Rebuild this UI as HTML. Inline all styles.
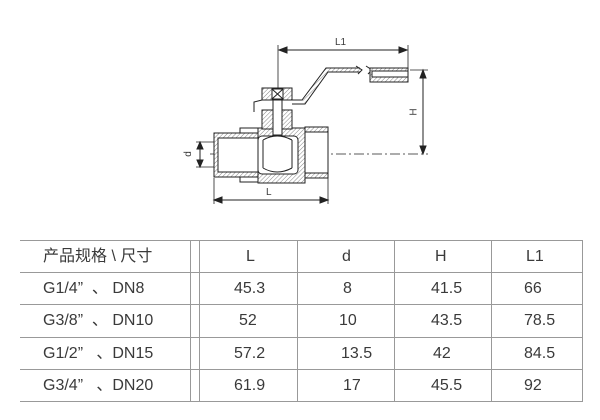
<!DOCTYPE html>
<html><head><meta charset="utf-8"><style>
body{margin:0;background:#fff;}
.w{position:relative;width:600px;height:420px;overflow:hidden;font-family:"Liberation Sans","Noto Sans CJK SC",sans-serif;color:#3a3a3a;}
.t{position:absolute;font-size:16px;line-height:18px;white-space:pre;}
</style></head><body><div class="w">
<svg width="600" height="420" style="position:absolute;left:0;top:0">
<defs>
<pattern id="h" width="3" height="3" patternUnits="userSpaceOnUse" patternTransform="rotate(45)"><rect width="3" height="3" fill="#fff"/><line x1="0" y1="0" x2="0" y2="3" stroke="#666" stroke-width="0.8"/></pattern>
</defs>
<g stroke="#222" stroke-width="1" fill="none">
<line x1="279" y1="50" x2="407" y2="50"/>
<path d="M287,47 L279,50 L287,53 z M399,47 L407,50 L399,53 z" fill="#222"/>
<line x1="278" y1="45" x2="278" y2="135" stroke-width="0.8"/>
<line x1="408" y1="45" x2="408" y2="72" stroke-width="0.8"/>
<line x1="410" y1="70" x2="428" y2="70" stroke-width="0.8"/>
<line x1="423" y1="71" x2="423" y2="153"/>
<path d="M420,78 L423,70 L426,78 z M420,146 L423,154 L426,146 z" fill="#222"/>
<line x1="210" y1="154" x2="428" y2="154" stroke-dasharray="10,3,2,3" stroke-width="0.8"/>
<line x1="196" y1="142" x2="214" y2="142" stroke-width="0.8"/>
<line x1="196" y1="167" x2="214" y2="167" stroke-width="0.8"/>
<line x1="200" y1="142" x2="200" y2="167"/>
<path d="M197,149 L200,142 L203,149 z M197,160 L200,167 L203,160 z" fill="#222"/>
<line x1="214" y1="178" x2="214" y2="204" stroke-width="0.8"/>
<line x1="328" y1="178" x2="328" y2="204" stroke-width="0.8"/>
<line x1="214" y1="200" x2="328" y2="200"/>
<path d="M222,197 L214,200 L222,203 z M320,197 L328,200 L320,203 z" fill="#222"/>
<rect x="214" y="133" width="46" height="44" fill="url(#h)"/>
<rect x="218" y="138" width="42" height="34" fill="#fff"/>
<path d="M240,133 L240,128 L258,128 L258,132 M240,177 L240,182 L258,182 L258,178"/>
<rect x="258" y="128" width="47" height="55" fill="url(#h)"/>
<rect x="258" y="136" width="40" height="38" rx="4" fill="#fff"/>
<path d="M263,140 L263,168 M292,140 L292,168 M263,140 Q277,132 292,140 M263,168 Q277,176 292,168"/>
<rect x="305" y="127" width="23" height="51" fill="url(#h)"/>
<rect x="305" y="132" width="23" height="41" fill="#fff"/>
<rect x="262" y="110" width="30" height="19" fill="url(#h)"/>
<rect x="273" y="95" width="9" height="40" fill="#fff"/>
<rect x="262" y="88" width="30" height="12" fill="url(#h)"/>
<rect x="272" y="89" width="11" height="10" fill="#fff"/>
<path d="M272,89 L283,99 M283,89 L272,99"/>
<path d="M254,112 L254,102 L262,100"/>
<path d="M305,104 L328,72 L360,72 L360,68 L326,68 L302,100 z" fill="url(#h)" stroke="none"/>
<path d="M292,104 L305,104 L328,72 L360,72 M292,100 L302,100 L326,68 L360,68" fill="none"/>
<path d="M356,66 L362,70 L358,74 M366,66 L372,70 L368,74"/>
<rect x="370" y="68" width="38" height="14" fill="url(#h)"/>
<rect x="372" y="71" width="36" height="6" fill="#fff"/>
</g>
<g stroke="#999" stroke-width="1">
<line x1="20" y1="240.5" x2="582" y2="240.5"/>
<line x1="20" y1="272.5" x2="582" y2="272.5"/>
<line x1="20" y1="304.5" x2="582" y2="304.5"/>
<line x1="20" y1="337.5" x2="582" y2="337.5"/>
<line x1="20" y1="369.5" x2="582" y2="369.5"/>
<line x1="20" y1="401.5" x2="582" y2="401.5"/>
<line x1="190.5" y1="240" x2="190.5" y2="402"/>
<line x1="199.5" y1="240" x2="199.5" y2="402"/>
<line x1="297.5" y1="240" x2="297.5" y2="402"/>
<line x1="394.5" y1="240" x2="394.5" y2="402"/>
<line x1="491.5" y1="240" x2="491.5" y2="402"/>
<line x1="582.5" y1="240" x2="582.5" y2="402"/>
</g>
</svg>
<div class="t" style="left:335px;top:37px;font-size:10px;line-height:12px">L1</div>
<div class="t" style="left:266px;top:187px;font-size:10px;line-height:12px">L</div>
<div class="t" style="left:411px;top:106px;font-size:10px;line-height:12px;transform:rotate(-90deg)">H</div>
<div class="t" style="left:186px;top:148px;font-size:10px;line-height:12px;transform:rotate(-90deg)">d</div>
<div class="t" style="left:43px;top:248px">产品规格 \ 尺寸</div>
<div class="t" style="left:43px;top:280px">G1/4”  、 DN8</div>
<div class="t" style="left:43px;top:312px">G3/8”  、 DN10</div>
<div class="t" style="left:43px;top:345px">G1/2”   、DN15</div>
<div class="t" style="left:43px;top:377px">G3/4”   、DN20</div>
<div class="t" style="left:246px;top:248px">L</div>
<div class="t" style="left:234px;top:280px">45.3</div>
<div class="t" style="left:239px;top:312px">52</div>
<div class="t" style="left:234px;top:345px">57.2</div>
<div class="t" style="left:234px;top:377px">61.9</div>
<div class="t" style="left:342px;top:248px">d</div>
<div class="t" style="left:343px;top:280px">8</div>
<div class="t" style="left:339px;top:312px">10</div>
<div class="t" style="left:341px;top:345px">13.5</div>
<div class="t" style="left:343px;top:377px">17</div>
<div class="t" style="left:435px;top:248px">H</div>
<div class="t" style="left:431px;top:280px">41.5</div>
<div class="t" style="left:431px;top:312px">43.5</div>
<div class="t" style="left:433px;top:345px">42</div>
<div class="t" style="left:431px;top:377px">45.5</div>
<div class="t" style="left:526px;top:248px">L1</div>
<div class="t" style="left:524px;top:280px">66</div>
<div class="t" style="left:524px;top:312px">78.5</div>
<div class="t" style="left:524px;top:345px">84.5</div>
<div class="t" style="left:524px;top:377px">92</div>
</div></body></html>
